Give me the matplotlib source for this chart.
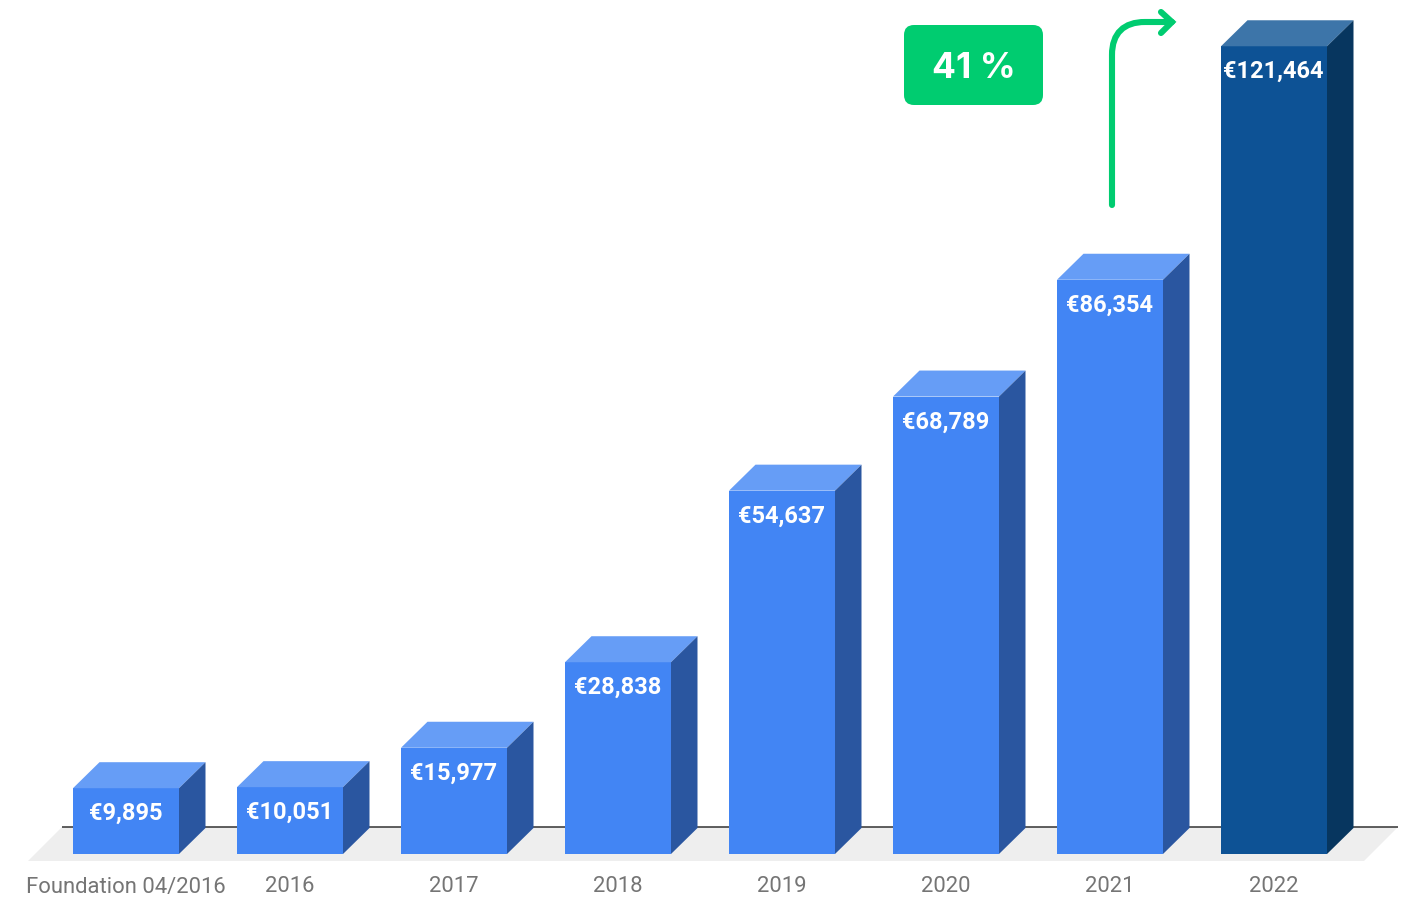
import numpy as np
import matplotlib
matplotlib.use("Agg")
import matplotlib.pyplot as plt
from matplotlib.patches import Polygon, FancyBboxPatch, PathPatch
from matplotlib.path import Path
from matplotlib.transforms import Affine2D

plt.rcParams['font.family'] = ['Roboto', 'DejaVu Sans']

# data
categories = ["Foundation 04/2016", "2016", "2017", "2018", "2019", "2020", "2021", "2022"]
values = [9895, 10051, 15977, 28838, 54637, 68789, 86354, 121464]
value_labels = ["€9,895", "€10,051", "€15,977", "€28,838", "€54,637", "€68,789", "€86,354", "€121,464"]
growth_label = "41 %"

W, H = 1404, 899
fig = plt.figure(figsize=(W / 100, H / 100), dpi=100)
ax = fig.add_axes([0, 0, 1, 1])
ax.axis("off")

# scales: one category = 164 px, 1 euro = 0.00665 px
px_x = 1 / 164
px_y = 1 / 0.00665
x0_px, base_px = 126, 854
ax.set_xlim(-x0_px * px_x, (W - x0_px) * px_x)
ax.set_ylim(-(H - base_px) * px_y, base_px * px_y)

# pixel coords with y going down, for the decoration
pix = Affine2D().scale(1, -1).translate(0, H)

# floor and back line
ax.add_patch(Polygon([(28, 861), (1364, 861), (1398, 827), (62, 827)], closed=True,
                     transform=pix, fc="#eeeeee", ec="none", zorder=1))
ax.plot([62, 1398], [826.5, 826.5], transform=pix, color="#333333", lw=1.1, zorder=2,
        solid_capstyle="butt")

bar_w = 106 * px_x
dx = 26.5 * px_x
dy = 26 * px_y
x = np.arange(len(values))

for i in x:
    v = values[i]
    last = i == len(values) - 1
    front = "#0d5295" if last else "#4285f4"
    top = "#3d75a9" if last else "#669df6"
    side = "#07365f" if last else "#2a56a0"
    l, r = i - bar_w / 2, i + bar_w / 2
    ax.bar(i, v, width=bar_w, color=front, linewidth=0, zorder=3)
    ax.add_patch(Polygon([(l, v), (r, v), (r + dx, v + dy), (l + dx, v + dy)],
                         closed=True, fc=top, ec="none", zorder=3))
    ax.add_patch(Polygon([(r, 0), (r + dx, dy), (r + dx, v + dy), (r, v)],
                         closed=True, fc=side, ec="none", zorder=3))
    ax.text(i - 0.004, v - 25.5 * px_y, value_labels[i], color="white", fontsize=17,
            fontweight="bold", ha="center", va="center", zorder=4)
    ax.text(i, -33 * px_y, categories[i], color="#757575", fontsize=15.8,
            ha="center", va="center", zorder=4)

# green badge
ax.add_patch(FancyBboxPatch((912, 33), 123, 64, boxstyle="round,pad=8,rounding_size=10",
                            transform=pix, fc="#00cc70", ec="none", zorder=4))
ax.text(973.5, 68.5, growth_label, transform=pix, color="white", fontsize=25.5,
        fontfamily="Inter", fontweight="bold", ha="center", va="center", zorder=5)

# green arrow
green = "#00cc70"
arrow = Path([(1112, 205), (1112, 55), (1112, 33), (1124, 22), (1145, 22), (1172, 22)],
             [Path.MOVETO, Path.LINETO, Path.CURVE4, Path.CURVE4, Path.CURVE4, Path.LINETO])
ax.add_patch(PathPatch(arrow, transform=pix, fc="none", ec=green, lw=4.4, capstyle="round",
                       zorder=4))
ax.plot([1161, 1172, 1161], [12, 22, 33], transform=pix, color=green, lw=4.4,
        solid_capstyle="round", solid_joinstyle="miter", zorder=4)

fig.savefig("out.png", dpi=100, facecolor="white")
